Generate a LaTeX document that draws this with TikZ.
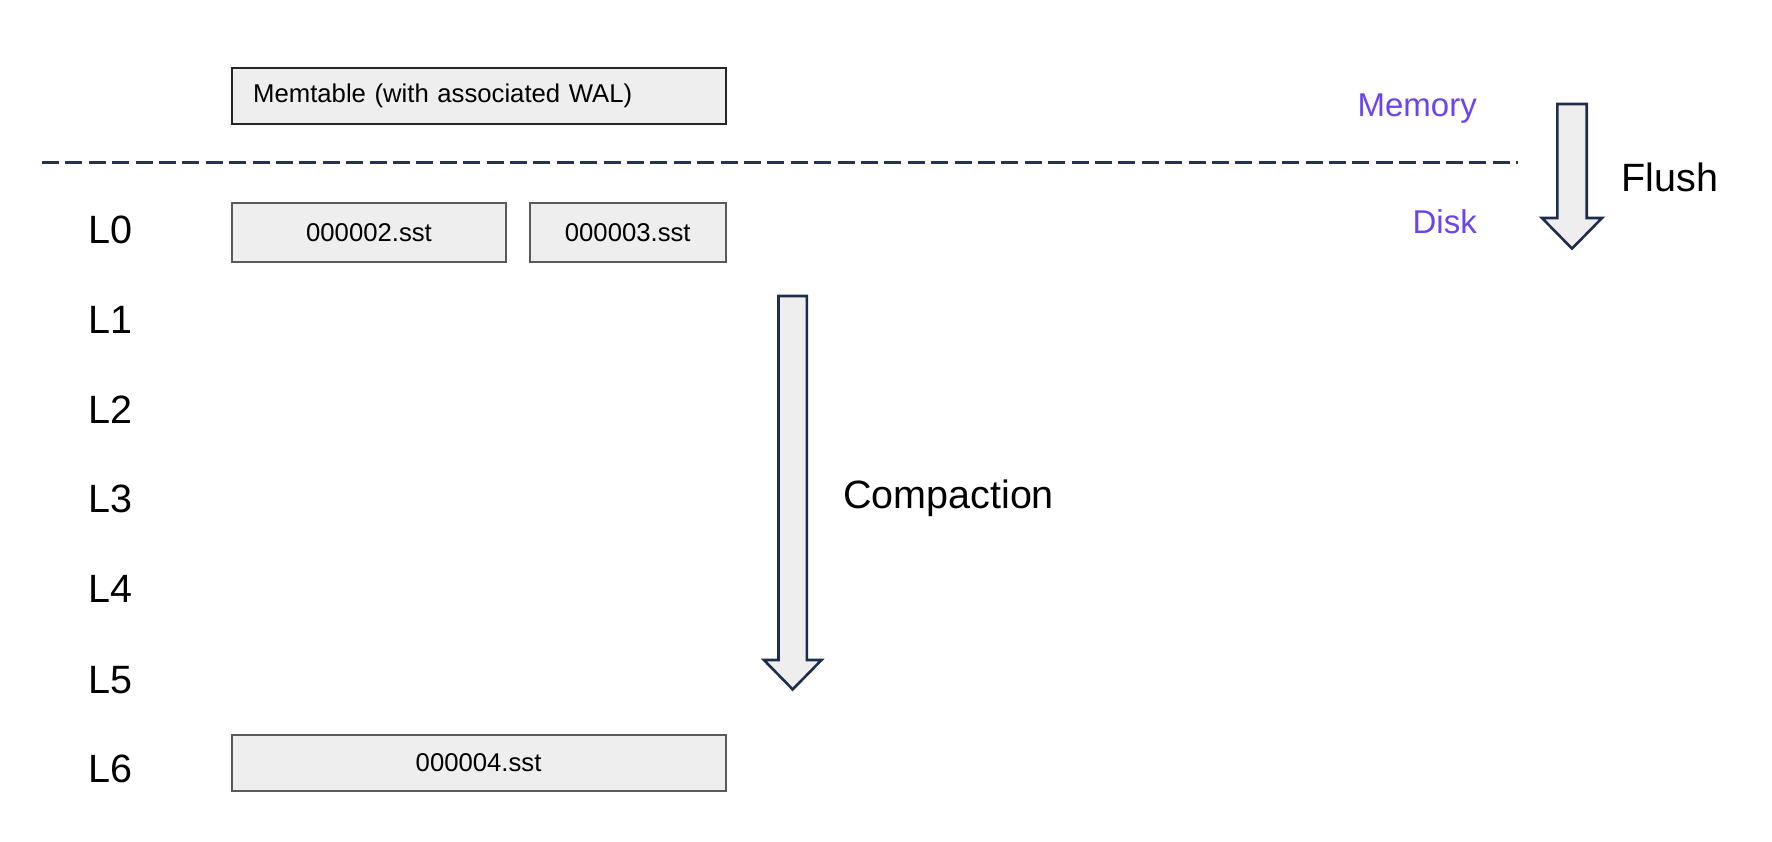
\documentclass[tikz,border=0pt]{standalone}
\usepackage{fontspec}
\setmainfont{Liberation Sans}
\definecolor{boxfill}{HTML}{EEEEEE}
\definecolor{boxline}{HTML}{5A5A5A}
\definecolor{navy}{HTML}{1F2D4D}
\definecolor{dashcol}{HTML}{243352}
\definecolor{purp}{HTML}{6B44F2}
\begin{document}
\begin{tikzpicture}[x=1pt,y=-1pt,
  filebox/.style={draw=boxline,line width=2pt,fill=boxfill,inner sep=0pt,
    font=\fontsize{25.7}{30}\selectfont},
  lvl/.style={anchor=base west,inner sep=0pt,font=\fontsize{39.5}{46}\selectfont},
  big/.style={anchor=base west,inner sep=0pt,font=\fontsize{39.5}{46}\selectfont},
  area/.style={anchor=base east,inner sep=0pt,text=purp,font=\fontsize{33}{40}\selectfont},
  fatarrow/.style={draw=navy,line width=2.6pt,fill=boxfill,line join=miter}]
\useasboundingbox (0,0) rectangle (1772,842);

% memtable
\node[filebox,draw=black!85,minimum width=493.8pt,minimum height=56.5pt,
  text width=450.8pt,align=left,inner xsep=21.5pt] (mem) at (478.6,96)
  {Memtable (with associated WAL)};

% separator
\coordinate (dl) at (42,162.7);
\coordinate (dr) at (1517.7,162.7);
\draw[dashcol,line width=2.7pt,dash pattern=on 17pt off 6.4pt] (dl) -- (dr);

\node[area] (memory) at (1477,116.8) {Memory};
\node[area] (disk) at (1477,233.3) {Disk};

% files
\node[filebox,minimum width=274.6pt,minimum height=58.8pt] (f2) at (369,232.8) {000002.sst};
\node[filebox,minimum width=195.5pt,minimum height=58.8pt] (f3) at (627.75,232.8) {000003.sst};
\node[filebox,minimum width=493.8pt,minimum height=56.4pt] (f4) at (478.6,762.8) {000004.sst};

% levels
\node[lvl] (l0) at (88,243.5) {L0};
\node[lvl] (l1) at (88,333.9) {L1};
\node[lvl] (l2) at (88,423.1) {L2};
\node[lvl] (l3) at (88,512.1) {L3};
\node[lvl] (l4) at (88,602.9) {L4};
\node[lvl] (l5) at (88,693.3) {L5};
\node[lvl] (l6) at (88,782.6) {L6};

% flush arrow
\draw[fatarrow] (1557.3,104) -- (1586.7,104) -- (1586.7,218) -- (1602,218)
  -- (1572,248.6) -- (1542,218) -- (1557.3,218) -- cycle;
\node[big] (flush) at (1621.6,191.5) {Flush};

% compaction arrow
\draw[fatarrow] (778.5,296) -- (806.9,296) -- (806.9,660) -- (821.5,660)
  -- (792.7,689.4) -- (763.9,660) -- (778.5,660) -- cycle;
\node[big] (comp) at (843,508.1) {Compaction};
\end{tikzpicture}
\end{document}
